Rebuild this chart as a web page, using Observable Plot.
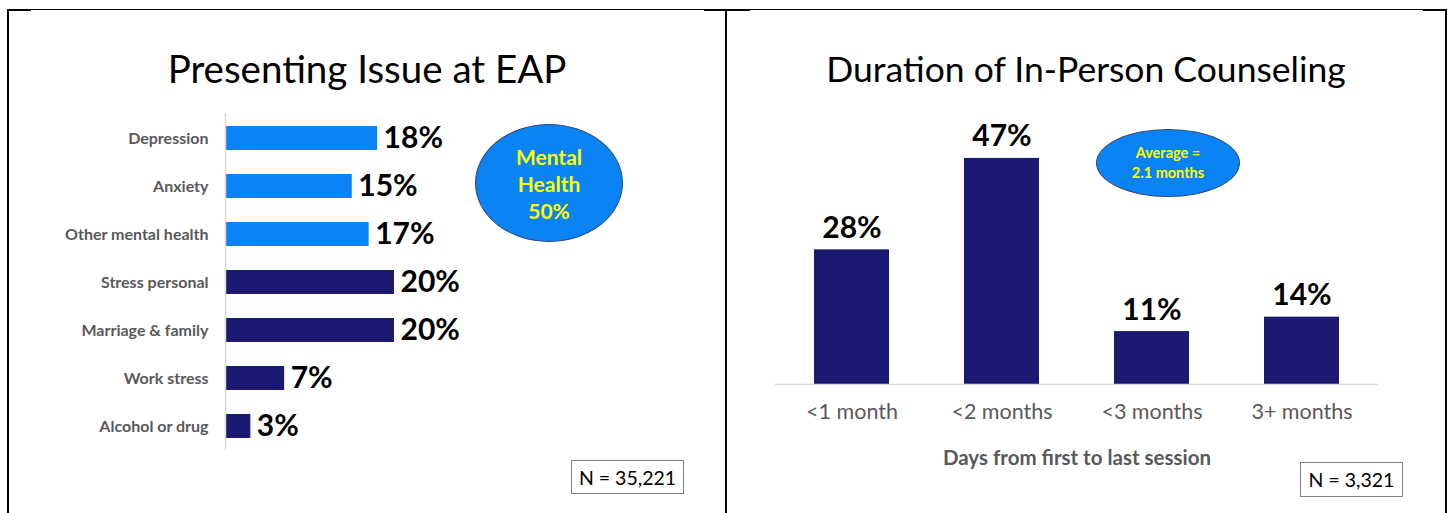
<!DOCTYPE html>
<html><head><meta charset="utf-8">
<script src="https://cdn.jsdelivr.net/npm/d3@7"></script>
<script src="https://cdn.jsdelivr.net/npm/@observablehq/plot@0.6"></script>
<style>
body{margin:0;background:#fff;font-family:Lato,sans-serif;}
#page{position:relative;width:1450px;height:513px;overflow:hidden;background:#fff;}
#page svg{position:absolute;top:0;}
.ln{position:absolute;background:#000;}
.title{position:absolute;color:#000;text-align:center;white-space:nowrap;}
.ell{position:absolute;border-radius:50%;background:#0A84F5;border:1px solid #2F4A78;box-sizing:border-box;display:flex;flex-direction:column;align-items:center;justify-content:center;color:#FFFF00;text-align:center;}
.nbox{position:absolute;border:1px solid #7F7F7F;box-sizing:border-box;display:flex;align-items:center;justify-content:center;font-size:19.5px;color:#000;background:#fff;}
</style></head><body><div id="page"></div>
<script>
// ---- data ----
const issues = ["Depression","Anxiety","Other mental health","Stress personal","Marriage & family","Work stress","Alcohol or drug"];
const issueShares = [18,15,17,20,20,7,3];
const issueGroups = ["Mental health","Mental health","Mental health","Other","Other","Other","Other"];
const durations = ["<1 month","<2 months","<3 months","3+ months"];
const durationShares = [28,47,11,14];
const leftTitle = "Presenting Issue at EAP";
const rightTitle = "Duration of In-Person Counseling";
const rightAxisTitle = "Days from first to last session";
const leftBubble = ["Mental","Health","50%"];
const rightBubble = ["Average =","2.1 months"];
const leftN = "N = 35,221";
const rightN = "N = 3,321";

const page = document.getElementById("page");
const lightBlue = "#0A84F5", navy = "#1A1A72", gray = "#595959";

// ---- left chart ----
const leftData = issues.map((c,i)=>({category:c, value:issueShares[i], group:issueGroups[i]}));
const left = Plot.plot({
  width: 726, height: 513,
  marginLeft: 225, marginRight: 280, marginTop: 113, marginBottom: 63,
  style: {background:"transparent", fontFamily:"Lato, sans-serif", overflow:"visible"},
  x: {domain:[0,25], range:[225, 225 + 25*8.45], axis:null},
  y: {domain: issues, range:[101.7, 461.7], padding:0.5, axis:null},
  color: {domain:["Mental health","Other"], range:[lightBlue, navy]},
  marks: [
    Plot.barX(leftData, {x:"value", y:"category", fill:"group"}),
    Plot.ruleX([0], {stroke:"#D9D9D9", strokeWidth:1.5}),
    Plot.axisY({tickSize:0, tickPadding:17, fontSize:16, fontWeight:"bold", fill:gray, label:null}),
    Plot.text(leftData, {x:"value", y:"category", text:d=>d.value+"%", dx:6, textAnchor:"start", fontSize:30, fontWeight:"bold", fill:"#000"})
  ]
});
left.style.left = "0px";
page.appendChild(left);

// ---- right chart ----
const rightData = durations.map((c,i)=>({category:c, value:durationShares[i]}));
const right = Plot.plot({
  width: 724, height: 513,
  marginLeft: 49, marginRight: 72, marginTop: 100, marginBottom: 129,
  style: {background:"transparent", fontFamily:"Lato, sans-serif", overflow:"visible"},
  x: {domain: durations, range:[49, 652], paddingInner:0.5, paddingOuter:0.25, axis:null},
  y: {domain:[0,50], range:[384, 384 - 50*4.81], axis:null},
  marks: [
    Plot.barY(rightData, {x:"category", y:"value", fill:navy}),
    Plot.ruleY([0], {stroke:"#D9D9D9", strokeWidth:1.5}),
    Plot.axisX({tickSize:0, tickPadding:19, fontSize:21.5, fill:gray, label:null}),
    Plot.text(rightData, {x:"category", y:"value", text:d=>d.value+"%", dy:-12, lineAnchor:"bottom", fontSize:30, fontWeight:"bold", fill:"#000"}),
    Plot.text([rightAxisTitle], {frameAnchor:"bottom", dy:80, fontSize:20.5, fontWeight:"bold", fill:gray})
  ]
});
right.style.left = "726px";
page.appendChild(right);

// ---- annotations ----
function el(cls, css, html){ const d=document.createElement("div"); d.className=cls; Object.assign(d.style, css); if(html!=null) d.innerHTML=html; page.appendChild(d); return d; }
el("title", {left:"117px", width:"500px", top:"49px", fontSize:"38.5px", lineHeight:"38px"}, leftTitle);
el("title", {left:"806px", width:"560px", top:"51px", fontSize:"35.5px", lineHeight:"35px"}, rightTitle);
el("ell", {left:"475px", top:"124px", width:"148px", height:"118px", fontSize:"21px", fontWeight:"bold", lineHeight:"27px"}, leftBubble.map(s=>`<div>${s}</div>`).join(""));
el("ell", {left:"1096px", top:"129px", width:"144px", height:"68px", fontSize:"14.5px", fontWeight:"bold", lineHeight:"20px"}, rightBubble.map(s=>`<div>${s}</div>`).join(""));
el("nbox", {left:"571px", top:"460px", width:"113px", height:"34px"}, leftN);
el("nbox", {left:"1300px", top:"462px", width:"103px", height:"35px"}, rightN);
// frame lines
el("ln", {left:"7px", top:"9px", width:"1440px", height:"1px"});
el("ln", {left:"7px", top:"9px", width:"24px", height:"2px"});
el("ln", {left:"704px", top:"9px", width:"46px", height:"2px"});
el("ln", {left:"1423px", top:"9px", width:"24px", height:"2px"});
el("ln", {left:"7px", top:"9px", width:"2px", height:"504px"});
el("ln", {left:"725px", top:"9px", width:"2px", height:"504px"});
el("ln", {left:"1445px", top:"9px", width:"2px", height:"504px"});
</script></body></html>
